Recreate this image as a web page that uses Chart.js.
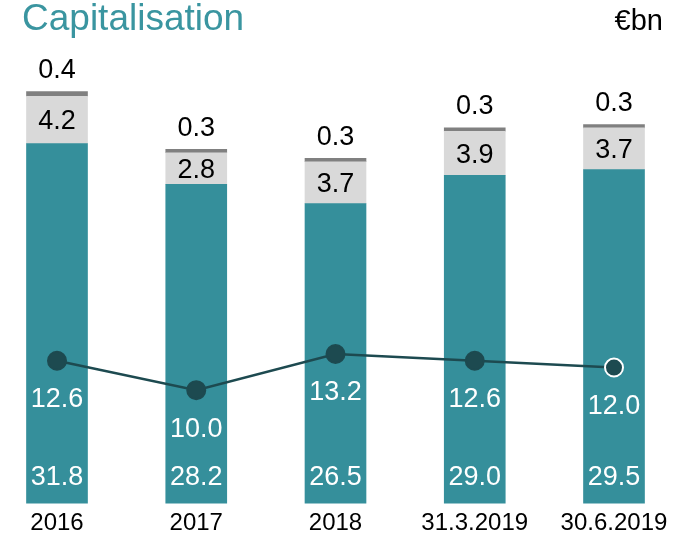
<!DOCTYPE html>
<html>
<head>
<meta charset="utf-8">
<script src="https://cdn.jsdelivr.net/npm/chart.js@4/dist/chart.umd.min.js"></script>
<style>
  body { margin: 0; background: #fff; }
  #wrap { position: relative; width: 683px; height: 537px; overflow: hidden; }
  #title { position: absolute; left: 22px; top: -3px; font: 37px "Liberation Sans", Arial, sans-serif; color: #3a95a0; }
  #unit { position: absolute; right: 20px; top: 4px; font: 29px "Liberation Sans", Arial, sans-serif; color: #000; }
  canvas { position: absolute; left: 0; top: 0; }
</style>
</head>
<body>
<div id="wrap">
  <canvas id="capChart" width="683" height="537"></canvas>
  <div id="title">Capitalisation</div>
  <div id="unit">€bn</div>
</div>
<script>
// Datos
const labels = ["2016", "2017", "2018", "31.3.2019", "30.6.2019"];
const baseValues = [31.8, 28.2, 26.5, 29.0, 29.5];
const midValues = [4.2, 2.8, 3.7, 3.9, 3.7];
const topValues = [0.4, 0.3, 0.3, 0.3, 0.3];
const lineValues = [12.6, 10.0, 13.2, 12.6, 12.0];

const teal = '#358f9b';
const dark = '#1d4a50';

// Etiquetas de valores dibujadas a mano
const valueLabels = {
  id: 'valueLabels',
  afterDatasetsDraw(chart) {
    const ctx = chart.ctx;
    ctx.save();
    ctx.font = '27px "Liberation Sans", Arial, sans-serif';
    ctx.textAlign = 'center';
    ctx.textBaseline = 'middle';
    const base = chart.getDatasetMeta(0).data;
    const mid = chart.getDatasetMeta(1).data;
    const top = chart.getDatasetMeta(2).data;
    const line = chart.getDatasetMeta(3).data;
    labels.forEach((l, i) => {
      ctx.fillStyle = '#fff';
      ctx.fillText(baseValues[i].toFixed(1), base[i].x, base[i].base - 26);
      ctx.fillText(lineValues[i].toFixed(1), line[i].x, line[i].y + 39);
      ctx.fillStyle = '#000';
      ctx.fillText(midValues[i].toFixed(1), mid[i].x, (mid[i].y + mid[i].base) / 2 + 2);
      ctx.fillText(topValues[i].toFixed(1), top[i].x, top[i].y - 21);
    });
    ctx.restore();
  }
};

const ctx = document.getElementById('capChart').getContext('2d');
new Chart(ctx, {
  type: 'bar',
  data: {
    labels: labels,
    datasets: [
      { data: baseValues, backgroundColor: teal, stack: 'a', order: 1, barThickness: 61, clip: false },
      { data: midValues, backgroundColor: '#d9d9d9', stack: 'a', order: 1, barThickness: 61, clip: false },
      { data: topValues, backgroundColor: '#808080', stack: 'a', order: 1, barThickness: 61, clip: false },
      {
        type: 'line',
        data: lineValues,
        stack: 'line',
        order: 0,
        borderColor: dark,
        borderWidth: 2.5,
        pointRadius: 9,
        pointBackgroundColor: dark,
        pointBorderColor: [dark, dark, dark, dark, '#fff'],
        pointBorderWidth: 2,
        clip: false
      }
    ]
  },
  options: {
    responsive: false,
    animation: false,
    layout: { padding: { left: 57, right: 69, top: 51, bottom: -7 } },
    plugins: { legend: { display: false }, tooltip: { enabled: false } },
    scales: {
      x: {
        stacked: true,
        offset: false,
        grid: { display: false, drawTicks: false },
        border: { display: false },
        ticks: { color: '#000', padding: 6, font: { size: 24, family: '"Liberation Sans", Arial, sans-serif' } }
      },
      y: {
        stacked: true,
        display: false,
        min: 0,
        max: 40
      }
    }
  },
  plugins: [valueLabels]
});
</script>
</body>
</html>
